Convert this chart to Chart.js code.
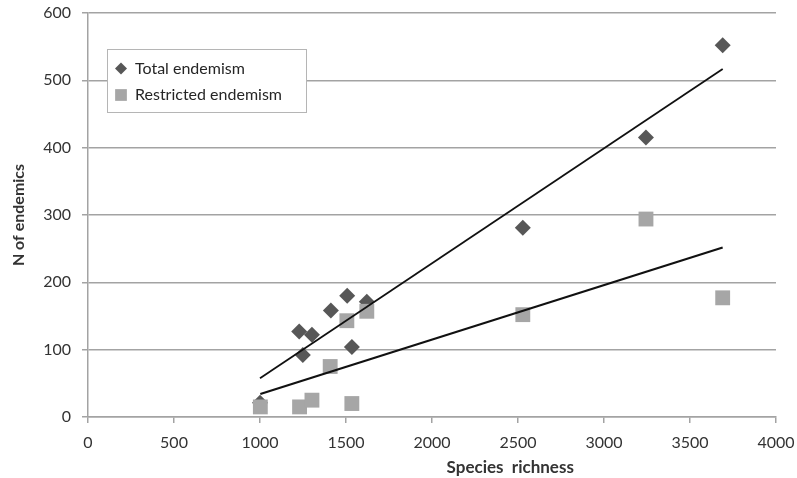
<!DOCTYPE html>
<html>
<head>
<meta charset="utf-8">
<script src="https://cdn.jsdelivr.net/npm/chart.js@4.4.1/dist/chart.umd.min.js"></script>
<style>
  html, body { margin: 0; padding: 0; background: #fff; }
  #wrap { width: 797px; height: 478px; }
</style>
</head>
<body>
<div id="wrap"><canvas id="endemismChart" width="797" height="478"></canvas></div>
<script>
// Values
const totalRichness = [1000, 1228, 1249, 1302, 1412, 1507, 1534, 1621, 2528, 3244, 3690];
const totalEndemics = [21, 127, 92, 122, 158, 180, 104, 171, 281, 415, 552];

const restrictedRichness = [1002, 1230, 1302, 1408, 1505, 1534, 1621, 2528, 3244, 3690];
const restrictedEndemics = [15, 15, 25, 75, 143, 20, 157, 152, 294, 177];

const xTicks = [0, 500, 1000, 1500, 2000, 2500, 3000, 3500, 4000];
const yTicks = [0, 100, 200, 300, 400, 500, 600];

const seriesNames = ['Total endemism', 'Restricted endemism'];

function toPoints(xs, ys) {
    return xs.map((x, i) => ({ x: x, y: ys[i] }));
}

// least squares trend line, from the smallest to the largest x
function trendLine(xs, ys) {
    const n = xs.length;
    const mx = xs.reduce((a, b) => a + b, 0) / n;
    const my = ys.reduce((a, b) => a + b, 0) / n;
    let sxy = 0, sxx = 0;
    for (let i = 0; i < n; i++) {
        sxy += (xs[i] - mx) * (ys[i] - my);
        sxx += (xs[i] - mx) * (xs[i] - mx);
    }
    const b = sxy / sxx;
    const a = my - b * mx;
    const lo = Math.min(...xs), hi = Math.max(...xs);
    return [{ x: lo, y: a + b * lo }, { x: hi, y: a + b * hi }];
}

const diamondColor = '#575757';
const squareColor = '#a6a6a6';
const gridColor = '#a3a3a3';
const labelFont = 'Lato, "Liberation Sans", sans-serif';

// Legend in a box inside the plot, like the original
const boxLegend = {
    id: 'boxLegend',
    afterDraw(chart) {
        const ctx = chart.ctx;
        ctx.save();
        ctx.fillStyle = '#fff';
        ctx.fillRect(107, 49, 199, 63);
        ctx.strokeStyle = '#b5b5b5';
        ctx.lineWidth = 1;
        ctx.strokeRect(107.5, 49.5, 199, 63);

        const rows = [
            { ds: chart.data.datasets[2], y: 68.5, r: 6 },
            { ds: chart.data.datasets[3], y: 95, r: 8.3 }
        ];
        ctx.font = '16px ' + labelFont;
        ctx.textBaseline = 'middle';
        rows.forEach(row => {
            ctx.fillStyle = row.ds.backgroundColor;
            ctx.strokeStyle = row.ds.backgroundColor;
            Chart.helpers.drawPoint(ctx, { pointStyle: row.ds.pointStyle, radius: row.r, borderWidth: 0 }, 121, row.y);
            ctx.fillStyle = '#262626';
            ctx.fillText(row.ds.label, 135, row.y);
        });
        ctx.restore();
    }
};

// X axis title sits right of centre in the original
const xTitle = {
    id: 'xTitle',
    afterDraw(chart) {
        const ctx = chart.ctx;
        const xs = chart.scales.x;
        ctx.save();
        ctx.font = 'bold 17px ' + labelFont;
        ctx.fillStyle = '#333';
        ctx.textAlign = 'center';
        ctx.textBaseline = 'middle';
        ctx.fillText('Species  richness', xs.getPixelForValue(2455), 468);
        ctx.restore();
    }
};

const ctx = document.getElementById('endemismChart').getContext('2d');
new Chart(ctx, {
    type: 'scatter',
    data: {
        datasets: [
            {
                type: 'line', label: 'Total trend', data: trendLine(totalRichness, totalEndemics),
                borderColor: '#111', borderWidth: 1.8, pointRadius: 0, fill: false, order: 0
            },
            {
                type: 'line', label: 'Restricted trend', data: trendLine(restrictedRichness, restrictedEndemics),
                borderColor: '#111', borderWidth: 2.2, pointRadius: 0, fill: false, order: 0
            },
            {
                label: seriesNames[0], data: toPoints(totalRichness, totalEndemics),
                pointStyle: 'rectRot', pointRadius: 8, backgroundColor: diamondColor,
                borderColor: diamondColor, borderWidth: 0, order: 2
            },
            {
                label: seriesNames[1], data: toPoints(restrictedRichness, restrictedEndemics),
                pointStyle: 'rect', pointRadius: 10.5, backgroundColor: squareColor,
                borderColor: squareColor, borderWidth: 0, order: 1
            }
        ]
    },
    options: {
        responsive: false,
        animation: false,
        devicePixelRatio: 1,
        layout: { padding: { left: 0, right: 21, top: 13, bottom: 0 } },
        plugins: { legend: { display: false }, tooltip: { enabled: false } },
        scales: {
            x: {
                type: 'linear', min: 0, max: 4000,
                afterBuildTicks: scale => { scale.ticks = xTicks.map(v => ({ value: v })); },
                afterFit: scale => { scale.height = 61; scale.paddingLeft = 0; scale.paddingRight = 0; },
                grid: { drawOnChartArea: false, drawTicks: true, tickLength: 6, color: gridColor, lineWidth: 1.5 },
                border: { color: gridColor, width: 1.5 },
                ticks: {
                    padding: 10, color: '#333', font: { family: labelFont, size: 16 },
                    callback: v => String(v)
                }
            },
            y: {
                min: 0, max: 600,
                afterBuildTicks: scale => { scale.ticks = yTicks.map(v => ({ value: v })); },
                afterFit: scale => { scale.width = 88; scale.paddingTop = 0; scale.paddingBottom = 0; },
                grid: { color: gridColor, lineWidth: 1.5, tickLength: 6 },
                border: { color: gridColor, width: 1.5 },
                ticks: {
                    padding: 11, color: '#333', font: { family: labelFont, size: 16 },
                    callback: v => String(v)
                },
                title: {
                    display: true, text: 'N of endemics', color: '#333',
                    font: { family: labelFont, size: 16, weight: 'bold' },
                    padding: { top: 9, bottom: 0 }
                }
            }
        }
    },
    plugins: [boxLegend, xTitle]
});
</script>
</body>
</html>
